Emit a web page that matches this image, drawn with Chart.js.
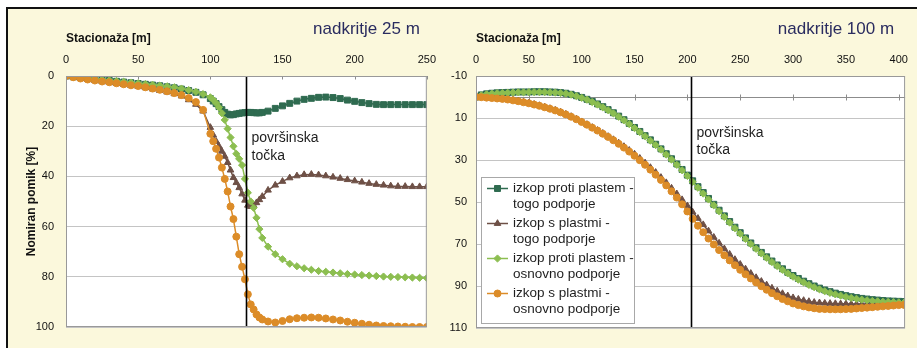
<!DOCTYPE html>
<html>
<head>
<meta charset="utf-8">
<script src="https://cdn.jsdelivr.net/npm/chart.js@4.4.1/dist/chart.umd.min.js"></script>
<style>
  html, body { margin: 0; padding: 0; background: #ffffff; }
  #panel {
    position: absolute; left: 6px; top: 7px; width: 911px; height: 341px;
    box-sizing: border-box; border-top: 2px solid #111; border-left: 2px solid #111;
    background: #fbf8dc;
  }
  canvas { position: absolute; top: 0; }
  #c25 { left: 0; }
  #c100 { left: 445px; }
</style>
</head>
<body>
<div id="panel"></div>
<canvas id="c25" width="445" height="348"></canvas>
<canvas id="c100" width="472" height="348"></canvas>
<script>
// ---- Overburden 25 m: stationing [m] and normalised settlement [%] ----
const stat25 = [0,5,10,15,20,25,30,35,40,45,50,55,60,65,70,75,80,85,90,95,100,
  102,104,106,108,110,112,114,116,118,120,122,124,126,128,130,132,134,136,
  140,145,150,155,160,165,170,175,180,185,190,195,200,205,210,215,220,225,230,235,240,245,250];
const protiTogo25 = [0,0.3,0.6,0.9,1.2,1.5,1.8,2.1,2.4,2.7,3.0,3.3,3.6,3.9,4.3,4.7,5.2,5.8,6.5,7.5,9.0,
  10.0,11.0,12.2,13.4,14.5,15.2,15.5,15.4,15.1,14.9,14.7,14.6,14.5,14.5,14.6,14.7,14.7,14.5,
  14.0,12.9,11.9,10.9,10.0,9.3,8.9,8.5,8.4,8.6,9.0,9.6,10.1,10.6,11.0,11.3,11.4,11.4,11.4,11.4,11.4,11.4,11.4];
const plastmiTogo25 = [0,0.5,1.0,1.4,1.8,2.2,2.6,3.0,3.4,3.8,4.2,4.7,5.2,5.8,6.4,7.1,8.0,9.5,11.3,14.0,20.5,
  23.5,26.0,28.0,30.0,32.0,34.5,37.5,40.5,42.5,44.5,47.0,49.5,51.5,52.0,51.5,50.5,49.3,48.0,
  45.5,43.5,42.0,40.6,39.8,39.3,39.2,39.4,39.8,40.3,40.8,41.3,41.8,42.3,42.8,43.2,43.5,43.8,44.0,44.0,44.1,44.1,44.1];
const protiOsnovno25 = [0,0.3,0.5,0.8,1.1,1.4,1.7,2.0,2.3,2.6,2.9,3.2,3.5,3.8,4.1,4.5,5.0,5.6,6.3,7.2,8.5,
  9.5,10.8,12.5,14.8,17.5,21.0,24.5,28.0,31.0,33.0,35.5,41.0,46.5,50.0,52.5,56.5,61.0,64.5,
  68.0,71.0,73.0,74.8,75.8,76.6,77.2,77.7,78.0,78.3,78.6,78.9,79.1,79.3,79.5,79.7,79.9,80.0,80.1,80.2,80.3,80.4,80.5];
const plastmiOsnovno25 = [0,0.5,1.0,1.4,1.8,2.2,2.5,2.9,3.3,3.7,4.0,4.5,5.0,5.5,6.1,6.8,7.6,8.8,10.4,13.5,23.0,
  26.0,29.0,32.5,36.5,41.0,46.0,52.0,57.0,64.0,71.0,76.0,81.0,87.0,91.0,93.0,95.0,96.2,97.0,
  97.8,98.2,97.6,96.9,96.5,96.3,96.2,96.3,96.6,97.0,97.4,97.9,98.3,98.7,99.1,99.4,99.6,99.7,99.8,99.9,100,100,100];

// ---- Overburden 100 m ----
const stat100 = [0,5,10,15,20,25,30,35,40,45,50,55,60,65,70,75,80,85,90,95,100,
  105,110,115,120,125,130,135,140,145,150,155,160,165,170,175,180,185,190,195,200,
  205,210,215,220,225,230,235,240,245,250,255,260,265,270,275,280,285,290,295,300,
  305,310,315,320,325,330,335,340,345,350,355,360,365,370,375,380,385,390,395,400,405];
const protiTogo100 = [0,-1.0,-1.5,-1.8,-2.0,-2.1,-2.2,-2.3,-2.4,-2.4,-2.4,-2.5,-2.5,-2.5,-2.4,-2.3,-2.1,-1.8,-1.3,-0.6,0.2,
  1.1,2.1,3.3,4.6,6.0,7.5,9.1,10.8,12.6,14.5,16.4,18.4,20.4,22.5,24.7,27.0,29.4,31.9,34.5,37.2,
  39.9,42.7,45.5,48.3,51.1,53.9,56.6,59.3,62.0,64.6,67.1,69.5,71.8,74.0,76.1,78.1,80.0,81.8,83.5,85.0,
  86.4,87.7,88.9,90.0,91.0,91.9,92.7,93.4,94.0,94.6,95.1,95.5,95.9,96.2,96.5,96.7,96.9,97.1,97.2,97.3,97.4];
const plastmiTogo100 = [0,0.1,0.3,0.5,0.7,0.9,1.2,1.5,1.9,2.4,2.9,3.5,4.1,4.8,5.5,6.3,7.2,8.2,9.3,10.5,11.8,
  13.1,14.5,15.9,17.3,18.8,20.3,21.9,23.6,25.4,27.2,29.2,31.4,33.6,35.9,38.3,40.8,43.4,46.1,48.9,51.8,
  54.8,57.8,60.8,63.8,66.8,69.6,72.3,74.9,77.4,79.7,81.9,84.0,86.0,87.8,89.5,91.0,92.4,93.6,94.7,95.6,
  96.3,96.9,97.4,97.8,98.0,98.2,98.3,98.4,98.5,98.5,98.6,98.6,98.6,98.6,98.6,98.6,98.6,98.6,98.6,98.6,98.6];
const protiOsnovno100 = [0,-0.8,-1.3,-1.6,-1.8,-1.9,-2.0,-2.1,-2.2,-2.2,-2.3,-2.3,-2.3,-2.3,-2.2,-2.1,-1.9,-1.6,-1.1,-0.4,0.4,
  1.3,2.4,3.6,4.9,6.3,7.8,9.4,11.1,12.9,14.8,16.7,18.7,20.8,22.9,25.1,27.4,29.8,32.3,34.9,37.6,
  40.4,43.2,46.0,48.8,51.6,54.4,57.1,59.8,62.5,65.1,67.6,70.0,72.3,74.5,76.6,78.6,80.5,82.3,84.0,85.6,
  87.0,88.3,89.5,90.6,91.6,92.5,93.3,94.0,94.6,95.2,95.7,96.1,96.5,96.8,97.1,97.3,97.5,97.6,97.7,97.8,97.9];
const plastmiOsnovno100 = [0,0.1,0.3,0.5,0.7,0.9,1.2,1.6,2.0,2.5,3.0,3.6,4.2,4.9,5.6,6.4,7.3,8.3,9.4,10.6,11.9,
  13.2,14.6,16.0,17.5,19.0,20.6,22.3,24.1,26.0,28.0,30.1,32.3,34.6,37.0,39.5,42.1,44.9,47.9,51.1,54.5,
  58.0,61.3,64.4,67.4,70.2,72.9,75.4,77.8,80.1,82.3,84.4,86.4,88.3,90.1,91.8,93.4,94.9,96.2,97.3,98.3,
  99.1,99.7,100.2,100.6,100.9,101.0,101.1,101.1,101.1,101.0,100.9,100.7,100.5,100.3,100.1,99.9,99.7,99.5,99.3,99.1,99.0];

// ---- labels ----
const seriesNames = [
  ['izkop proti plastem -', 'togo podporje'],
  ['izkop s plastmi -', 'togo podporje'],
  ['izkop proti plastem -', 'osnovno podporje'],
  ['izkop s plastmi -', 'osnovno podporje']
];
const surfaceLabel = ['površinska', 'točka'];
const xTitle = 'Stacionaža [m]';
const yTitle = 'Nomiran pomik [%]';

const FONT = '"Liberation Sans", Arial, Helvetica, sans-serif';
const COLORS = ['#2f6b50', '#6e5046', '#8cbe50', '#dc8c28'];
const STYLES = ['rect', 'triangle', 'rectRot', 'circle'];
const RADII = [4.2, 3.8, 3.6, 3.5];

function series(xs, ys, idx) {
  return {
    label: seriesNames[idx].join(' '),
    data: xs.map((x, i) => ({ x: x, y: ys[i] })),
    borderColor: COLORS[idx],
    backgroundColor: COLORS[idx],
    pointBackgroundColor: COLORS[idx],
    pointBorderColor: COLORS[idx],
    pointStyle: STYLES[idx],
    pointRadius: RADII[idx],
    pointBorderWidth: 1,
    borderWidth: 1.5,
    tension: 0,
    fill: false,
    order: 4 - idx
  };
}

// plot background, zero line, surface-point marker, frame, heading and legend
const panelDecor = {
  id: 'panelDecor',
  beforeDraw(chart) {
    const { ctx, chartArea: a } = chart;
    ctx.save();
    ctx.fillStyle = '#ffffff';
    ctx.fillRect(a.left, a.top, a.right - a.left, a.bottom - a.top);
    ctx.restore();
  },
  beforeDatasetsDraw(chart) {
    const { ctx, chartArea: a, scales: { x, y } } = chart;
    const y0 = Math.round(y.getPixelForValue(0)) + 0.5;
    ctx.save();
    ctx.strokeStyle = '#8c8c8c';
    ctx.lineWidth = 1;
    ctx.beginPath();
    ctx.moveTo(a.left, y0); ctx.lineTo(a.right, y0);
    x.ticks.forEach(t => {
      const px = Math.round(x.getPixelForValue(t.value)) + 0.5;
      ctx.moveTo(px, Math.max(a.top, y0 - 3));
      ctx.lineTo(px, y0 + 3);
    });
    ctx.stroke();
    ctx.restore();
  },
  afterDatasetsDraw(chart, args, o) {
    const { ctx, chartArea: a, scales: { x, y } } = chart;
    ctx.save();
    const px = Math.round(x.getPixelForValue(o.surfaceAt)) + 0.5;
    ctx.strokeStyle = '#000';
    ctx.lineWidth = 1.6;
    ctx.beginPath(); ctx.moveTo(px, a.top); ctx.lineTo(px, a.bottom); ctx.stroke();
    ctx.fillStyle = '#1e1e1e';
    ctx.font = '14px ' + FONT;
    ctx.textAlign = 'left';
    ctx.textBaseline = 'middle';
    surfaceLabel.forEach((t, i) => ctx.fillText(t, px + 5, y.getPixelForValue(o.labelAt[i])));
    ctx.strokeStyle = '#999999';
    ctx.lineWidth = 1;
    ctx.strokeRect(a.left + 0.5, a.top + 0.5, a.right - a.left - 1, a.bottom - a.top - 1);
    ctx.restore();
  },
  afterDraw(chart, args, o) {
    const { ctx, chartArea: a } = chart;
    ctx.save();
    ctx.fillStyle = '#2a2c60';
    ctx.font = '17px ' + FONT;
    ctx.textAlign = 'right';
    ctx.textBaseline = 'alphabetic';
    ctx.fillText(o.heading, a.right - o.headingInset, 34);
    if (o.legend) {
      const bw = 153, bh = 146;
      const bx = a.left + 5, by = a.bottom - 5 - bh;
      ctx.fillStyle = '#ffffff';
      ctx.fillRect(bx, by, bw, bh);
      ctx.strokeStyle = '#a8a8a8';
      ctx.lineWidth = 1;
      ctx.strokeRect(bx + 0.5, by + 0.5, bw, bh);
      chart.data.datasets.forEach((ds, i) => {
        const cy = by + 11.5 + i * 35;
        ctx.strokeStyle = ds.borderColor;
        ctx.lineWidth = 1.5;
        ctx.beginPath(); ctx.moveTo(bx + 6, cy); ctx.lineTo(bx + 27, cy); ctx.stroke();
        ctx.fillStyle = ds.pointBackgroundColor;
        ctx.strokeStyle = ds.pointBorderColor;
        ctx.lineWidth = 1;
        Chart.helpers.drawPoint(ctx, { pointStyle: ds.pointStyle, radius: ds.pointRadius, borderWidth: 1, rotation: 0 }, bx + 16.5, cy);
        ctx.fillStyle = '#1e1e1e';
        ctx.font = '13.5px ' + FONT;
        ctx.textAlign = 'left';
        ctx.textBaseline = 'middle';
        seriesNames[i].forEach((t, k) => ctx.fillText(t, bx + 32, cy + k * 16));
      });
    }
    ctx.restore();
  }
};

function makeChart(id, cfg) {
  return new Chart(document.getElementById(id), {
    type: 'line',
    data: {
      datasets: [
        series(cfg.xs, cfg.ys[0], 0),
        series(cfg.xs, cfg.ys[1], 1),
        series(cfg.xs, cfg.ys[2], 2),
        series(cfg.xs, cfg.ys[3], 3)
      ]
    },
    options: {
      responsive: false,
      animation: false,
      events: [],
      devicePixelRatio: 1,
      layout: { padding: cfg.padding },
      plugins: {
        legend: { display: false },
        tooltip: { enabled: false },
        panelDecor: cfg.decor
      },
      scales: {
        x: {
          type: 'linear', position: 'top',
          min: 0, max: cfg.xMax,
          afterFit: s => { s.height = cfg.xAxisHeight; },
          grid: { display: false, drawTicks: false },
          border: { display: false },
          ticks: { stepSize: 50, includeBounds: false, padding: 9, color: '#111', font: { family: FONT, size: 11 }, maxRotation: 0 },
          title: { display: true, text: xTitle, align: 'start', color: '#111', font: { family: FONT, size: 12, weight: 'bold' }, padding: { top: 23, bottom: 0 } }
        },
        y: {
          type: 'linear', reverse: true,
          min: cfg.yMin, max: cfg.yMax,
          afterFit: s => { s.width = cfg.yAxisWidth; },
          grid: { color: '#c4c4c4', lineWidth: 1, drawTicks: false },
          border: { display: false },
          ticks: { stepSize: 20, padding: cfg.yTickPad, color: '#111', font: { family: FONT, size: 11 } },
          title: { display: cfg.yTitle, text: yTitle, color: '#111', font: { family: FONT, size: 12, weight: 'bold' }, padding: { top: 24, bottom: 0 } }
        }
      }
    },
    plugins: [panelDecor]
  });
}

makeChart('c25', {
  xs: stat25,
  ys: [protiTogo25, plastmiTogo25, protiOsnovno25, plastmiOsnovno25],
  xMax: 250, yMin: 0, yMax: 100,
  padding: { left: 0, top: 8, right: 12, bottom: 21 },
  xAxisHeight: 68, yAxisWidth: 66, yTickPad: 12, yTitle: true,
  decor: { surfaceAt: 125, labelAt: [24.7, 31.9], heading: 'nadkritje 25 m', headingInset: 7, legend: false }
});

makeChart('c100', {
  xs: stat100,
  ys: [protiTogo100, plastmiTogo100, protiOsnovno100, plastmiOsnovno100],
  xMax: 406, yMin: -10, yMax: 110,
  padding: { left: 0, top: 8, right: 4, bottom: 20 },
  xAxisHeight: 68, yAxisWidth: 31, yTickPad: 9, yTitle: false,
  decor: { surfaceAt: 203, labelAt: [17.1, 25.2], heading: 'nadkritje 100 m', headingInset: 11, legend: true }
});
</script>
</body>
</html>
